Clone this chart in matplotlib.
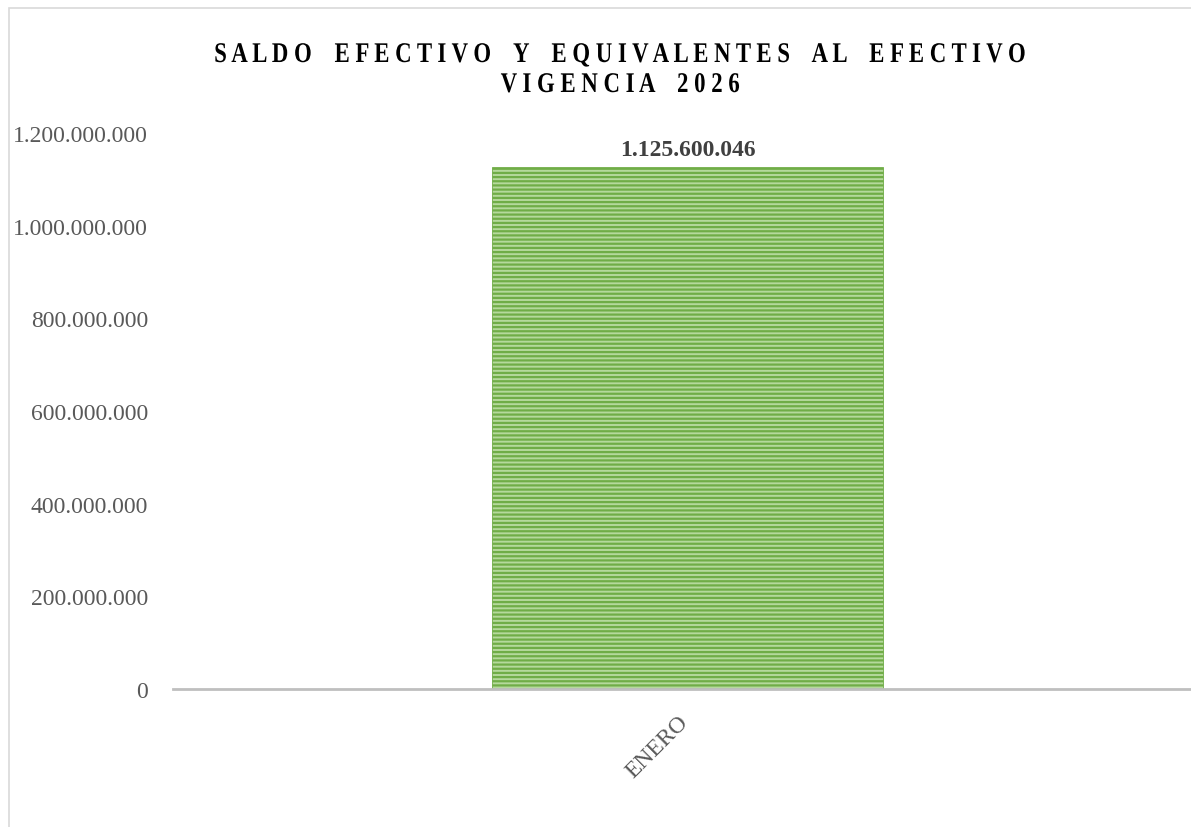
import matplotlib.pyplot as plt
from matplotlib.patches import Rectangle, PathPatch
from matplotlib.ticker import FuncFormatter
from matplotlib.textpath import TextPath
from matplotlib.font_manager import FontProperties
from matplotlib.transforms import Affine2D, IdentityTransform, ScaledTranslation

plt.rcParams["font.family"] = ["Liberation Serif", "DejaVu Serif"]
plt.rcParams["hatch.linewidth"] = 1.6

# --- data ---
months = ["ENERO"]
saldo = [1125600046]
yticks = [0, 200000000, 400000000, 600000000, 800000000, 1000000000, 1200000000]
title_lines = ["SALDO EFECTIVO Y EQUIVALENTES AL EFECTIVO", "VIGENCIA 2026"]


def miles(v, pos=None):
    return f"{v:,.0f}".replace(",", ".")


def spaced(line):
    # Excel-style character spacing
    return "    ".join(" ".join(w) for w in line.split(" "))


W, H = 1191, 828
fig = plt.figure(figsize=(W / 100, H / 100), dpi=100)
ax = fig.add_axes([173 / W, 1 - 690 / H, (W - 173) / W, (690 - 134) / H])

# chart frame
fig.patches.append(Rectangle((9 / W, -0.1), 1.2, 1 - 9 / H + 0.1, transform=fig.transFigure,
                             fill=False, edgecolor="#d9d9d9", linewidth=1.2))

bars = ax.bar(range(len(months)), saldo, width=0.384, color="#b5d99c",
              edgecolor="#70ad47", hatch="----", linewidth=0.6)
for b, v in zip(bars, saldo):
    ax.text(b.get_x() + b.get_width() / 2, v + 16000000, miles(v), ha="center", va="bottom",
            fontsize=17, fontweight="bold", color="#404040")

ax.set_xlim(-0.5054, 0.4946)
ax.set_ylim(0, 1200000000)
ax.set_yticks(yticks)
ax.yaxis.set_major_formatter(FuncFormatter(miles))
ax.set_xticks(range(len(months)))
ax.set_xticklabels(months)

for s in ["top", "right", "left"]:
    ax.spines[s].set_visible(False)
ax.spines["bottom"].set_color("#bfbfbf")
ax.spines["bottom"].set_linewidth(2)
ax.tick_params(axis="y", length=0, pad=18, labelsize=17, labelcolor="#595959")
ax.tick_params(axis="x", length=0, pad=16, labelsize=17, labelcolor="#595959")
shift = ScaledTranslation(5 / 100, 0, fig.dpi_scale_trans)
for lab in ax.get_xticklabels():
    lab.set_rotation(45)
    lab.set_ha("right")
    lab.set_va("top")
    lab.set_transform(lab.get_transform() + shift)

# title: bold serif, tall and tracked like the Excel original
fp = FontProperties(family="Liberation Serif", weight="bold")
baselines = [H - 63, H - 93]
sx, sy = 1.2, 1.5
for line, yb in zip(title_lines, baselines):
    tp = TextPath((0, 0), spaced(line), size=19, prop=fp)
    ext = tp.get_extents()
    tr = Affine2D().translate(-(ext.x0 + ext.x1) / 2, 0).scale(sx, sy).translate(620, yb)
    fig.patches.append(PathPatch(tp, transform=tr + IdentityTransform(),
                                 facecolor="black", edgecolor="none"))

fig.savefig("out.png", dpi=100)
